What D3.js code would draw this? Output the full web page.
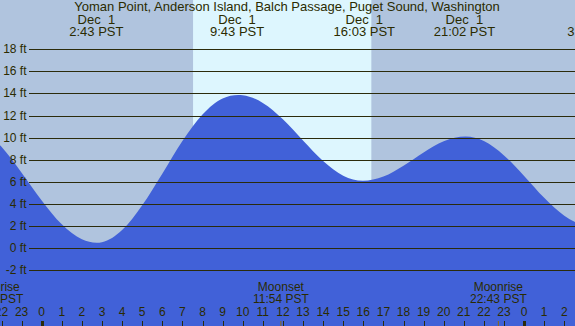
<!DOCTYPE html>
<html>
<head>
<meta charset="utf-8">
<script src="https://cdn.jsdelivr.net/npm/d3@7"></script>
<style>
  body { margin: 0; padding: 0; overflow: hidden; }
  svg { display: block; }
  text { font-family: "Liberation Sans", Arial, sans-serif; fill: #2b2b00; white-space: pre; }
</style>
</head>
<body>
<svg id="chart" width="575" height="326"></svg>
<script>
// tide heights (ft), hours from midnight Dec 1
const tideHours = [-4.07, -3, -2, -1, 0, 1, 2, 2.73, 3, 4, 5, 6, 7, 8, 9, 9.78, 10, 11, 12, 13, 14, 15, 15.98, 17, 18, 19, 20, 21.09, 22, 23, 24, 25, 26, 27, 27.45, 28];
const tideFeet  = [11.5, 10.84, 9.17, 6.84, 4.33, 2.17, 0.81, 0.5, 0.55, 1.65, 3.9, 6.75, 9.7, 12.1, 13.55, 13.86, 13.84, 13.14, 11.66, 9.75, 7.9, 6.57, 6.1, 6.48, 7.46, 8.66, 9.67, 10.1, 9.69, 8.4, 6.54, 4.56, 2.94, 2.08, 2.0, 2.1];

const title = 'Yoman Point, Anderson Island, Balch Passage, Puget Sound, Washington';
const eventHours = [2.72, 9.72, 16.05, 21.03, 27.5];
const eventDates = ['Dec  1', 'Dec  1', 'Dec  1', 'Dec  1', 'Dec  2'];
const eventTimes = ['2:43 PST', '9:43 PST', '16:03 PST', '21:02 PST', '3:30 PST'];

const sunrise = 7.53, sunset = 16.4;
const moonHours = [-2.32, 11.9, 22.72];
const moonNames = ['Moonrise', 'Moonset', 'Moonrise'];
const moonTimes = ['21:41 PST', '11:54 PST', '22:43 PST'];

const feetTicks = [-2, 0, 2, 4, 6, 8, 10, 12, 14, 16, 18];
const hourTicks = d3.range(-2, 28);

var W = 575, H = 326;
var svg = d3.select('#chart');

var x = d3.scaleLinear().domain([0, 24]).range([41.7, 524.1]);
var y = d3.scaleLinear().domain([0, 18]).range([248.3, 49.2]);

// night / day background
svg.append('rect').attr('width', W).attr('height', H).attr('fill', '#b0c4de');
svg.append('rect')
  .attr('x', x(sunrise)).attr('y', 0)
  .attr('width', x(sunset) - x(sunrise)).attr('height', H)
  .attr('fill', '#ddf6fe');

var pts = tideHours.map((h, i) => [h, tideFeet[i]]);
var area = d3.area()
  .x(d => x(d[0]))
  .y0(H)
  .y1(d => y(d[1]))
  .curve(d3.curveMonotoneX);
svg.append('path').datum(pts).attr('d', area).attr('fill', '#4161d8');

// grid lines + ft labels
var grid = svg.append('g');
feetTicks.forEach(function(f) {
  grid.append('line')
    .attr('x1', 29).attr('x2', W)
    .attr('y1', Math.round(y(f)) + 0.5).attr('y2', Math.round(y(f)) + 0.5)
    .attr('stroke', '#2b2b0b').attr('stroke-width', 1);
  grid.append('text')
    .attr('x', 26.5).attr('y', y(f) + 4)
    .attr('text-anchor', 'end')
    .attr('font-size', 12)
    .text(f + ' ft');
});

// title + tide events
svg.append('text').attr('x', 287).attr('y', 11).attr('text-anchor', 'middle')
  .attr('font-size', 13).text(title);
eventHours.forEach(function(h, i) {
  svg.append('text').attr('x', x(h)).attr('y', 24).attr('text-anchor', 'middle')
    .attr('font-size', 13).text(eventDates[i]);
  svg.append('text').attr('x', x(h)).attr('y', 36).attr('text-anchor', 'middle')
    .attr('font-size', 13).text(eventTimes[i]);
});

// moon labels
moonHours.forEach(function(h, i) {
  svg.append('text').attr('x', x(h)).attr('y', 291).attr('text-anchor', 'middle')
    .attr('font-size', 12).text(moonNames[i]);
  svg.append('text').attr('x', x(h)).attr('y', 303).attr('text-anchor', 'middle')
    .attr('font-size', 12).text(moonTimes[i]);
  svg.append('line')
    .attr('x1', x(h)).attr('x2', x(h)).attr('y1', 321).attr('y2', H)
    .attr('stroke', '#8a6a10').attr('stroke-width', 1);
});

// hour axis
var hx = svg.append('g');
hourTicks.forEach(function(h) {
  var hr = ((h % 24) + 24) % 24;
  hx.append('text').attr('x', x(h)).attr('y', 316).attr('text-anchor', 'middle')
    .attr('font-size', 12).text(hr);
  hx.append('line')
    .attr('x1', Math.round(x(h)) + 0.5).attr('x2', Math.round(x(h)) + 0.5)
    .attr('y1', 321).attr('y2', H)
    .attr('stroke', '#2b2b0b').attr('stroke-width', hr === 0 ? 3 : 1);
});
</script>
</body>
</html>
